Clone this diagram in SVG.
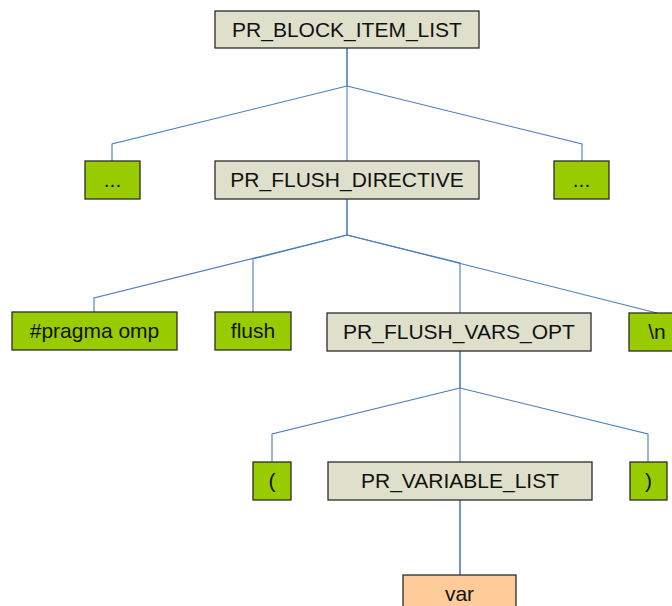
<svg xmlns="http://www.w3.org/2000/svg" width="672" height="606" viewBox="0 0 672 606">
<style>
.n rect{stroke:#2b2b2b;stroke-width:1.3}
.g rect{fill:#99cc00}
.t rect{fill:#dee0cb}
.o rect{fill:#ffcc99}
text{font-family:"Liberation Sans",Arial,sans-serif;font-size:21px;fill:#111;text-anchor:middle}
#edges path{fill:none;stroke:#4a7ebb;stroke-width:1.1}
#edges .trunk{stroke-width:1.6}
</style>
<rect width="672" height="606" fill="#fff"/>
<g id="edges">
<path class="trunk" d="M347 48V86"/>
<path d="M347 86L112 144V161"/>
<path d="M347 86V161"/>
<path d="M347 86L582 144V161"/>
<path class="trunk" d="M347 199V235"/>
<path d="M347 235L94 298V312"/>
<path d="M347 235L253 259V312"/>
<path d="M347 235L460 263V313"/>
<path d="M347 235L657 313"/>
<path class="trunk" d="M460 351V388"/>
<path d="M460 388L272 434V462"/>
<path d="M460 388V462"/>
<path d="M460 388L648 434V462"/>
<path class="trunk" d="M460 500V575"/>
</g>
<g id="n1" class="n t"><rect x="215" y="11" width="264" height="37"/><text x="347" y="36.5">PR_BLOCK_ITEM_LIST</text></g>
<g id="n2" class="n g"><rect x="85" y="161" width="55" height="38"/><text x="112.5" y="187">...</text></g>
<g id="n3" class="n t"><rect x="215" y="161" width="264" height="38"/><text x="347" y="187">PR_FLUSH_DIRECTIVE</text></g>
<g id="n4" class="n g"><rect x="554" y="161" width="55" height="38"/><text x="581.5" y="187">...</text></g>
<g id="n5" class="n g"><rect x="12" y="312" width="165" height="38"/><text x="94.5" y="338">#pragma omp</text></g>
<g id="n6" class="n g"><rect x="215" y="312" width="76" height="38"/><text x="253" y="338">flush</text></g>
<g id="n7" class="n t"><rect x="327" y="313" width="264" height="38"/><text x="459" y="339">PR_FLUSH_VARS_OPT</text></g>
<g id="n8" class="n g"><rect x="629" y="313" width="56" height="38"/><text x="657" y="339">\n</text></g>
<g id="n9" class="n g"><rect x="253" y="462" width="38" height="38"/><text x="272" y="488">(</text></g>
<g id="n10" class="n t"><rect x="328" y="462" width="264" height="38"/><text x="460" y="488">PR_VARIABLE_LIST</text></g>
<g id="n11" class="n g"><rect x="630" y="462" width="37" height="38"/><text x="648.5" y="488">)</text></g>
<g id="n12" class="n o"><rect x="403" y="575" width="113" height="38"/><text x="459.5" y="601">var</text></g>
</svg>
